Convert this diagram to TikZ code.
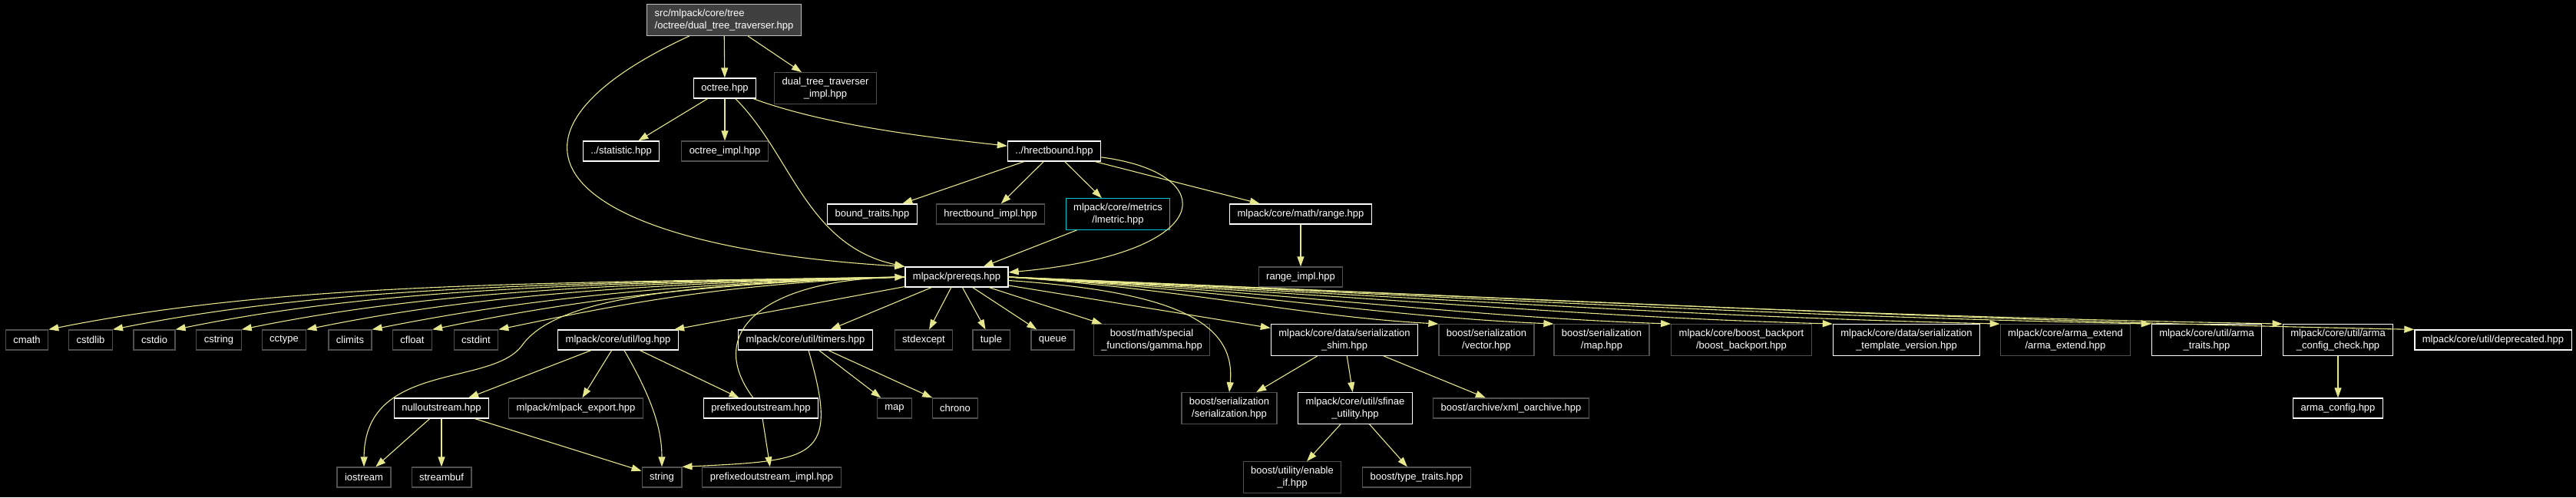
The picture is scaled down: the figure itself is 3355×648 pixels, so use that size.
\documentclass[tikz,border=0pt]{standalone}
\usepackage{fontspec}
\setmainfont{Liberation Sans}
\usetikzlibrary{arrows.meta}

\definecolor{edgecol}{RGB}{230,230,140}
\definecolor{undocgray}{RGB}{80,80,80}
\definecolor{rootfill}{RGB}{64,64,64}
\definecolor{rootline}{RGB}{191,191,191}
\definecolor{linkcyan}{RGB}{0,200,205}

\begin{document}
\begin{tikzpicture}[x=1pt,y=-1pt,
  file/.style={draw=white,line width=1.2pt,fill=black,text=white,
    font=\fontsize{13}{15.5}\selectfont,inner xsep=10pt,inner ysep=6.5pt,
    minimum height=26pt,align=center},
  extfile/.style={file,draw=undocgray},
  rootfile/.style={file,draw=rootline,fill=rootfill,align=left},
  linkfile/.style={file,draw=linkcyan},
  inc/.style={draw=edgecol,line width=1.1pt,-{Triangle[length=13pt,width=9pt]}}]
\fill[black] (0,0) rectangle (3355,648);

% top part
\node[rootfile] (root) at (943,26) {src/mlpack/core/tree\\/octree/dual\_tree\_traverser.hpp};
\node[file] (octree) at (944,115) {octree.hpp};
\node[extfile] (dtimpl) at (1075,115) {dual\_tree\_traverser\\\_impl.hpp};
\node[file] (statistic) at (809,197) {../statistic.hpp};
\node[extfile] (octimpl) at (944,197) {octree\_impl.hpp};
\node[file] (hrect) at (1373,197) {../hrectbound.hpp};
\node[file] (btraits) at (1136,279) {bound\_traits.hpp};
\node[extfile] (hrimpl) at (1290,279) {hrectbound\_impl.hpp};
\node[linkfile] (lmetric) at (1456,279) {mlpack/core/metrics\\/lmetric.hpp};
\node[file] (range) at (1694,279) {mlpack/core/math/range.hpp};
\node[file] (prereqs) at (1246,361) {mlpack/prereqs.hpp};
\node[extfile] (rangeimpl) at (1694,361) {range\_impl.hpp};

% row of prereqs includes
\node[extfile] (cmath) at (35,443) {cmath};
\node[extfile] (cstdlib) at (118,443) {cstdlib};
\node[extfile] (cstdio) at (201,443) {cstdio};
\node[extfile] (cstring) at (285,443) {cstring};
\node[extfile] (cctype) at (370,443) {cctype};
\node[extfile] (climits) at (456,443) {climits};
\node[extfile] (cfloat) at (537,443) {cfloat};
\node[extfile] (cstdint) at (620,443) {cstdint};
\node[file] (log) at (805,443) {mlpack/core/util/log.hpp};
\node[file] (timers) at (1049,443) {mlpack/core/util/timers.hpp};
\node[extfile] (stdexcept) at (1203,443) {stdexcept};
\node[extfile] (tuple) at (1291,443) {tuple};
\node[extfile] (queue) at (1371,443) {queue};
\node[extfile] (gamma) at (1500,443) {boost/math/special\\\_functions/gamma.hpp};
\node[file] (shim) at (1751,443) {mlpack/core/data/serialization\\\_shim.hpp};
\node[extfile] (vector) at (1936,443) {boost/serialization\\/vector.hpp};
\node[extfile] (smap) at (2086,443) {boost/serialization\\/map.hpp};
\node[extfile] (backport) at (2268,443) {mlpack/core/boost\_backport\\/boost\_backport.hpp};
\node[file] (tmplver) at (2483,443) {mlpack/core/data/serialization\\\_template\_version.hpp};
\node[extfile] (armaext) at (2690,443) {mlpack/core/arma\_extend\\/arma\_extend.hpp};
\node[file] (armatraits) at (2874,443) {mlpack/core/util/arma\\\_traits.hpp};
\node[file] (cfgcheck) at (3045,443) {mlpack/core/util/arma\\\_config\_check.hpp};
\node[file] (deprecated) at (3247,443) {mlpack/core/util/deprecated.hpp};

% lower rows
\node[file] (nullout) at (575,532) {nulloutstream.hpp};
\node[extfile] (mlexport) at (750,532) {mlpack/mlpack\_export.hpp};
\node[file] (prefixed) at (991,532) {prefixedoutstream.hpp};
\node[extfile] (map) at (1165,532) {map};
\node[extfile] (chrono) at (1244,532) {chrono};
\node[extfile] (serial) at (1601,532) {boost/serialization\\/serialization.hpp};
\node[file] (sfinae) at (1765,532) {mlpack/core/util/sfinae\\\_utility.hpp};
\node[extfile] (xml) at (1968,532) {boost/archive/xml\_oarchive.hpp};
\node[file] (armacfg) at (3045,532) {arma\_config.hpp};
\node[extfile] (iostream) at (474,622) {iostream};
\node[extfile] (streambuf) at (575,622) {streambuf};
\node[extfile] (string) at (862,622) {string};
\node[extfile] (pimpl) at (1005,622) {prefixedoutstream\_impl.hpp};
\node[extfile] (enableif) at (1683,622) {boost/utility/enable\\\_if.hpp};
\node[extfile] (typetraits) at (1845,622) {boost/type\_traits.hpp};

% edges from the top files
\draw[inc] (root) -- (octree);
\draw[inc] (root) -- (dtimpl);
\draw[inc] (root) .. controls (610,180) and (720,320) .. (prereqs.north west);
\draw[inc] (octree) -- (statistic);
\draw[inc] (octree) -- (octimpl);
\draw[inc] (octree) .. controls (1080,165) and (1220,180) .. (hrect);
\draw[inc] (octree) .. controls (1030,200) and (1050,320) .. (prereqs.north west);
\draw[inc] (hrect) -- (btraits);
\draw[inc] (hrect) -- (hrimpl);
\draw[inc] (hrect) -- (lmetric);
\draw[inc] (hrect) -- (range);
\draw[inc] (hrect) .. controls (1590,225) and (1590,330) .. (prereqs);
\draw[inc] (lmetric) -- (prereqs);
\draw[inc] (range) -- (rangeimpl);

% prereqs fan, left
\draw[inc] (prereqs.west) .. controls +(-500,8) and +(300,-60) .. (cmath.north east);
\draw[inc] (prereqs.west) .. controls +(-460,8) and +(280,-56) .. (cstdlib.north east);
\draw[inc] (prereqs.west) .. controls +(-430,8) and +(255,-52) .. (cstdio.north east);
\draw[inc] (prereqs.west) .. controls +(-390,8) and +(235,-48) .. (cstring.north east);
\draw[inc] (prereqs.west) .. controls +(-350,8) and +(210,-43) .. (cctype.north east);
\draw[inc] (prereqs.west) .. controls +(-310,8) and +(190,-38) .. (climits.north east);
\draw[inc] (prereqs.west) .. controls +(-275,8) and +(165,-34) .. (cfloat.north east);
\draw[inc] (prereqs.west) .. controls +(-240,8) and +(145,-30) .. (cstdint.north east);
\draw[inc] (prereqs.west) .. controls (850,370) and (720,395) .. (680,450)
  .. controls (640,505) and (475,470) .. (iostream.north);
\draw[inc] (prereqs) -- (log);
\draw[inc] (prereqs) -- (timers);
\draw[inc] (prereqs) -- (stdexcept);
\draw[inc] (prereqs) -- (tuple);
\draw[inc] (prereqs) -- (queue);
\draw[inc] (prereqs) -- (gamma);
\draw[inc] (prereqs) -- (shim);
\draw[inc] (prereqs) .. controls (1530,380) and (1610,420) .. (serial.north);

% prereqs fan, right
\draw[inc] (prereqs.east) .. controls +(250,18) and +(-180,-10) .. (vector.north west);
\draw[inc] (prereqs.east) .. controls +(320,20) and +(-230,-10) .. (smap.north west);
\draw[inc] (prereqs.east) .. controls +(390,22) and +(-280,-10) .. (backport.north west);
\draw[inc] (prereqs.east) .. controls +(480,25) and +(-350,-10) .. (tmplver.north west);
\draw[inc] (prereqs.east) .. controls +(580,28) and +(-420,-10) .. (armaext.north west);
\draw[inc] (prereqs.east) .. controls +(670,30) and +(-480,-10) .. (armatraits.north west);
\draw[inc] (prereqs.east) .. controls +(750,32) and +(-540,-10) .. (cfgcheck.north west);
\draw[inc] (prereqs.east) .. controls +(820,34) and +(-600,-12) .. (deprecated.north west);

% log, timers and the rest
\draw[inc] (log) -- (nullout);
\draw[inc] (log) -- (mlexport);
\draw[inc] (log) .. controls (850,520) and (862,560) .. (string.north);
\draw[inc] (log) -- (prefixed);
\draw[inc] (nullout) -- (iostream);
\draw[inc] (nullout) -- (streambuf);
\draw[inc] (nullout) -- (string);
\draw[inc] (prefixed) -- (pimpl);
\draw[inc] (prefixed) .. controls (915,430) and (1000,365) .. (prereqs.west);
\draw[inc] (timers) -- (map);
\draw[inc] (timers) -- (chrono);
\draw[inc] (timers) .. controls (1095,600) and (1060,600) .. (string.north east);
\draw[inc] (shim) -- (serial);
\draw[inc] (shim) -- (sfinae);
\draw[inc] (shim) -- (xml);
\draw[inc] (sfinae) -- (enableif);
\draw[inc] (sfinae) -- (typetraits);
\draw[inc] (cfgcheck) -- (armacfg);
\end{tikzpicture}
\end{document}
